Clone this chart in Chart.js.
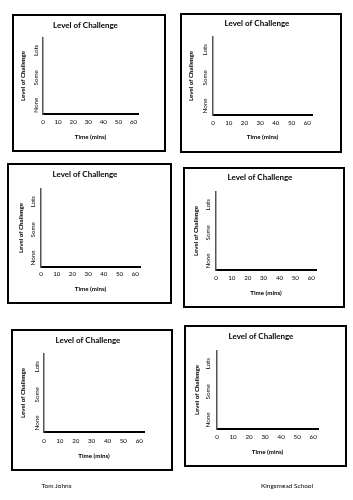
<!DOCTYPE html>
<html>
<head>
<meta charset="utf-8">
<script src="https://cdn.jsdelivr.net/npm/chart.js@4/dist/chart.umd.min.js"></script>
<style>
  html, body { margin: 0; padding: 0; background: #fff; }
  body { width: 353px; height: 500px; position: relative; overflow: hidden; }
  .box { position: absolute; }
  .box canvas { position: absolute; left: 0; top: 0; }
  .frame { position: absolute; left: 0; top: 0; right: 0; bottom: 0; border: 2px solid #000; box-sizing: border-box; pointer-events: none; }
  .foot { position: absolute; font-family: Lato, "Open Sans", sans-serif; font-size: 6.5px; color: #000; transform: translate(-50%, -50%); white-space: nowrap; }
</style>
</head>
<body>
<script>
// ---- data ----
const timeTicks = [0, 10, 20, 30, 40, 50, 60];
const levelLabels = ['None', 'Some', 'Lots'];
const levelValues = [0, 1, 2];
const chartTitle = 'Level of Challenge';
const xAxisTitle = 'Time (mins)';
const yAxisTitle = 'Level of Challenge';
const footerLeft = 'Tom Johns';
const footerRight = 'Kingsmead School';
const challengeSeries = []; // blank worksheet: no values plotted

// ---- layout (styles / positions only) ----
const FONT = 'Lato, "Open Sans", sans-serif';
const boxes = [
  {L:12, T:14, R:166, B:152, pl:43, pt:38, pr:138, pb:114, titleX:85.5, titleY:25, ylabX:36, ytitleX:23, xtitleY:137, tickY:122},
  {L:180, T:13, R:342, B:153, pl:213, pt:37, pr:312, pb:115, titleX:257, titleY:23, ylabX:205, ytitleX:191, xtitleY:137, tickY:123},
  {L:7, T:163, R:172, B:304, pl:41, pt:189, pr:140, pb:267, titleX:85, titleY:174, ylabX:33, ytitleX:21, xtitleY:289, tickY:274},
  {L:183, T:167, R:345, B:308, pl:216, pt:192, pr:316, pb:270, titleX:260, titleY:177, ylabX:208, ytitleX:196, xtitleY:293, tickY:278},
  {L:11, T:329, R:173, B:471, pl:44, pt:354, pr:144, pb:432, titleX:88, titleY:340, ylabX:37, ytitleX:23, xtitleY:456, tickY:441},
  {L:184, T:325, R:347, B:467, pl:217, pt:351, pr:318, pb:429, titleX:261, titleY:336, ylabX:208, ytitleX:197, xtitleY:452, tickY:437}
];
const titleSize = 8, tickSize = 6.2, axisTitleSize = 6.2, LH = 1.2;

const mctx = document.createElement('canvas').getContext('2d');
mctx.font = tickSize + 'px ' + FONT;
const widest = Math.max(...levelLabels.map(s => mctx.measureText(s).width));

boxes.forEach(b => {
  const W = b.R - b.L, H = b.B - b.T;
  const wrap = document.createElement('div');
  wrap.className = 'box';
  wrap.style.left = b.L + 'px'; wrap.style.top = b.T + 'px';
  wrap.style.width = W + 'px'; wrap.style.height = H + 'px';
  const cv = document.createElement('canvas');
  cv.width = W; cv.height = H;
  cv.style.width = W + 'px'; cv.style.height = H + 'px';
  wrap.appendChild(cv);
  const fr = document.createElement('div'); fr.className = 'frame';
  wrap.appendChild(fr);
  document.body.appendChild(wrap);

  const tLH = titleSize * LH;
  const tPadTop = (b.titleY - b.T) - tLH / 2;
  const tPadBot = (b.pt - b.T) - tLH - tPadTop;
  const aLH = axisTitleSize * LH;
  const padRight = Math.max(0, W - 2 * (b.titleX - b.L));

  new Chart(cv, {
    type: 'line',
    data: { datasets: [{ label: chartTitle, data: challengeSeries, borderColor: '#000', pointRadius: 0 }] },
    options: {
      responsive: false, animation: false, devicePixelRatio: 1,
      layout: { padding: { left: 0, right: padRight, top: 0, bottom: 0 } },
      plugins: {
        legend: { display: false },
        tooltip: { enabled: false },
        title: { display: true, text: chartTitle, color: '#000',
          font: { family: FONT, size: titleSize, weight: 'bold', lineHeight: LH },
          padding: { top: tPadTop, bottom: tPadBot } }
      },
      scales: {
        x: {
          type: 'linear', min: 0, max: 63,
          afterBuildTicks: s => { s.ticks = timeTicks.map(v => ({ value: v })); },
          afterFit: s => { s.height = b.B - b.pb; s.paddingRight = b.R - b.pr; },
          grid: { display: false, drawTicks: false },
          border: { display: true, color: '#000', width: 2 },
          ticks: { color: '#000', padding: (b.tickY - b.pb) - tickSize * LH / 2, maxRotation: 0, autoSkip: false,
            font: { family: FONT, size: tickSize, lineHeight: LH } },
          title: { display: true, text: xAxisTitle, color: '#000',
            font: { family: FONT, size: axisTitleSize, weight: 'bold', lineHeight: LH },
            padding: { top: 0, bottom: (b.B - b.xtitleY) - aLH / 2 } }
        },
        y: {
          type: 'linear', min: -0.32, max: 2.45,
          afterBuildTicks: s => { s.ticks = levelValues.map(v => ({ value: v })); },
          afterFit: s => { s.width = b.pl - b.L; },
          grid: { display: false, drawTicks: false },
          border: { display: true, color: '#555', width: 1.5 },
          ticks: { color: '#000', minRotation: 90, maxRotation: 90, crossAlign: 'center',
            padding: (b.pl - b.ylabX) - widest / 2, autoSkip: false,
            callback: v => levelLabels[levelValues.indexOf(v)] ?? '',
            font: { family: FONT, size: tickSize, lineHeight: LH } },
          title: { display: true, text: yAxisTitle, color: '#000',
            font: { family: FONT, size: axisTitleSize, weight: 'bold', lineHeight: LH },
            padding: { top: (b.ytitleX - b.L) - aLH / 2, bottom: 0 } }
        }
      }
    }
  });
});

[[footerLeft, 56.5, 485], [footerRight, 287, 485]].forEach(([t, x, y]) => {
  const d = document.createElement('div');
  d.className = 'foot'; d.textContent = t;
  d.style.left = x + 'px'; d.style.top = y + 'px';
  document.body.appendChild(d);
});
</script>
</body>
</html>
